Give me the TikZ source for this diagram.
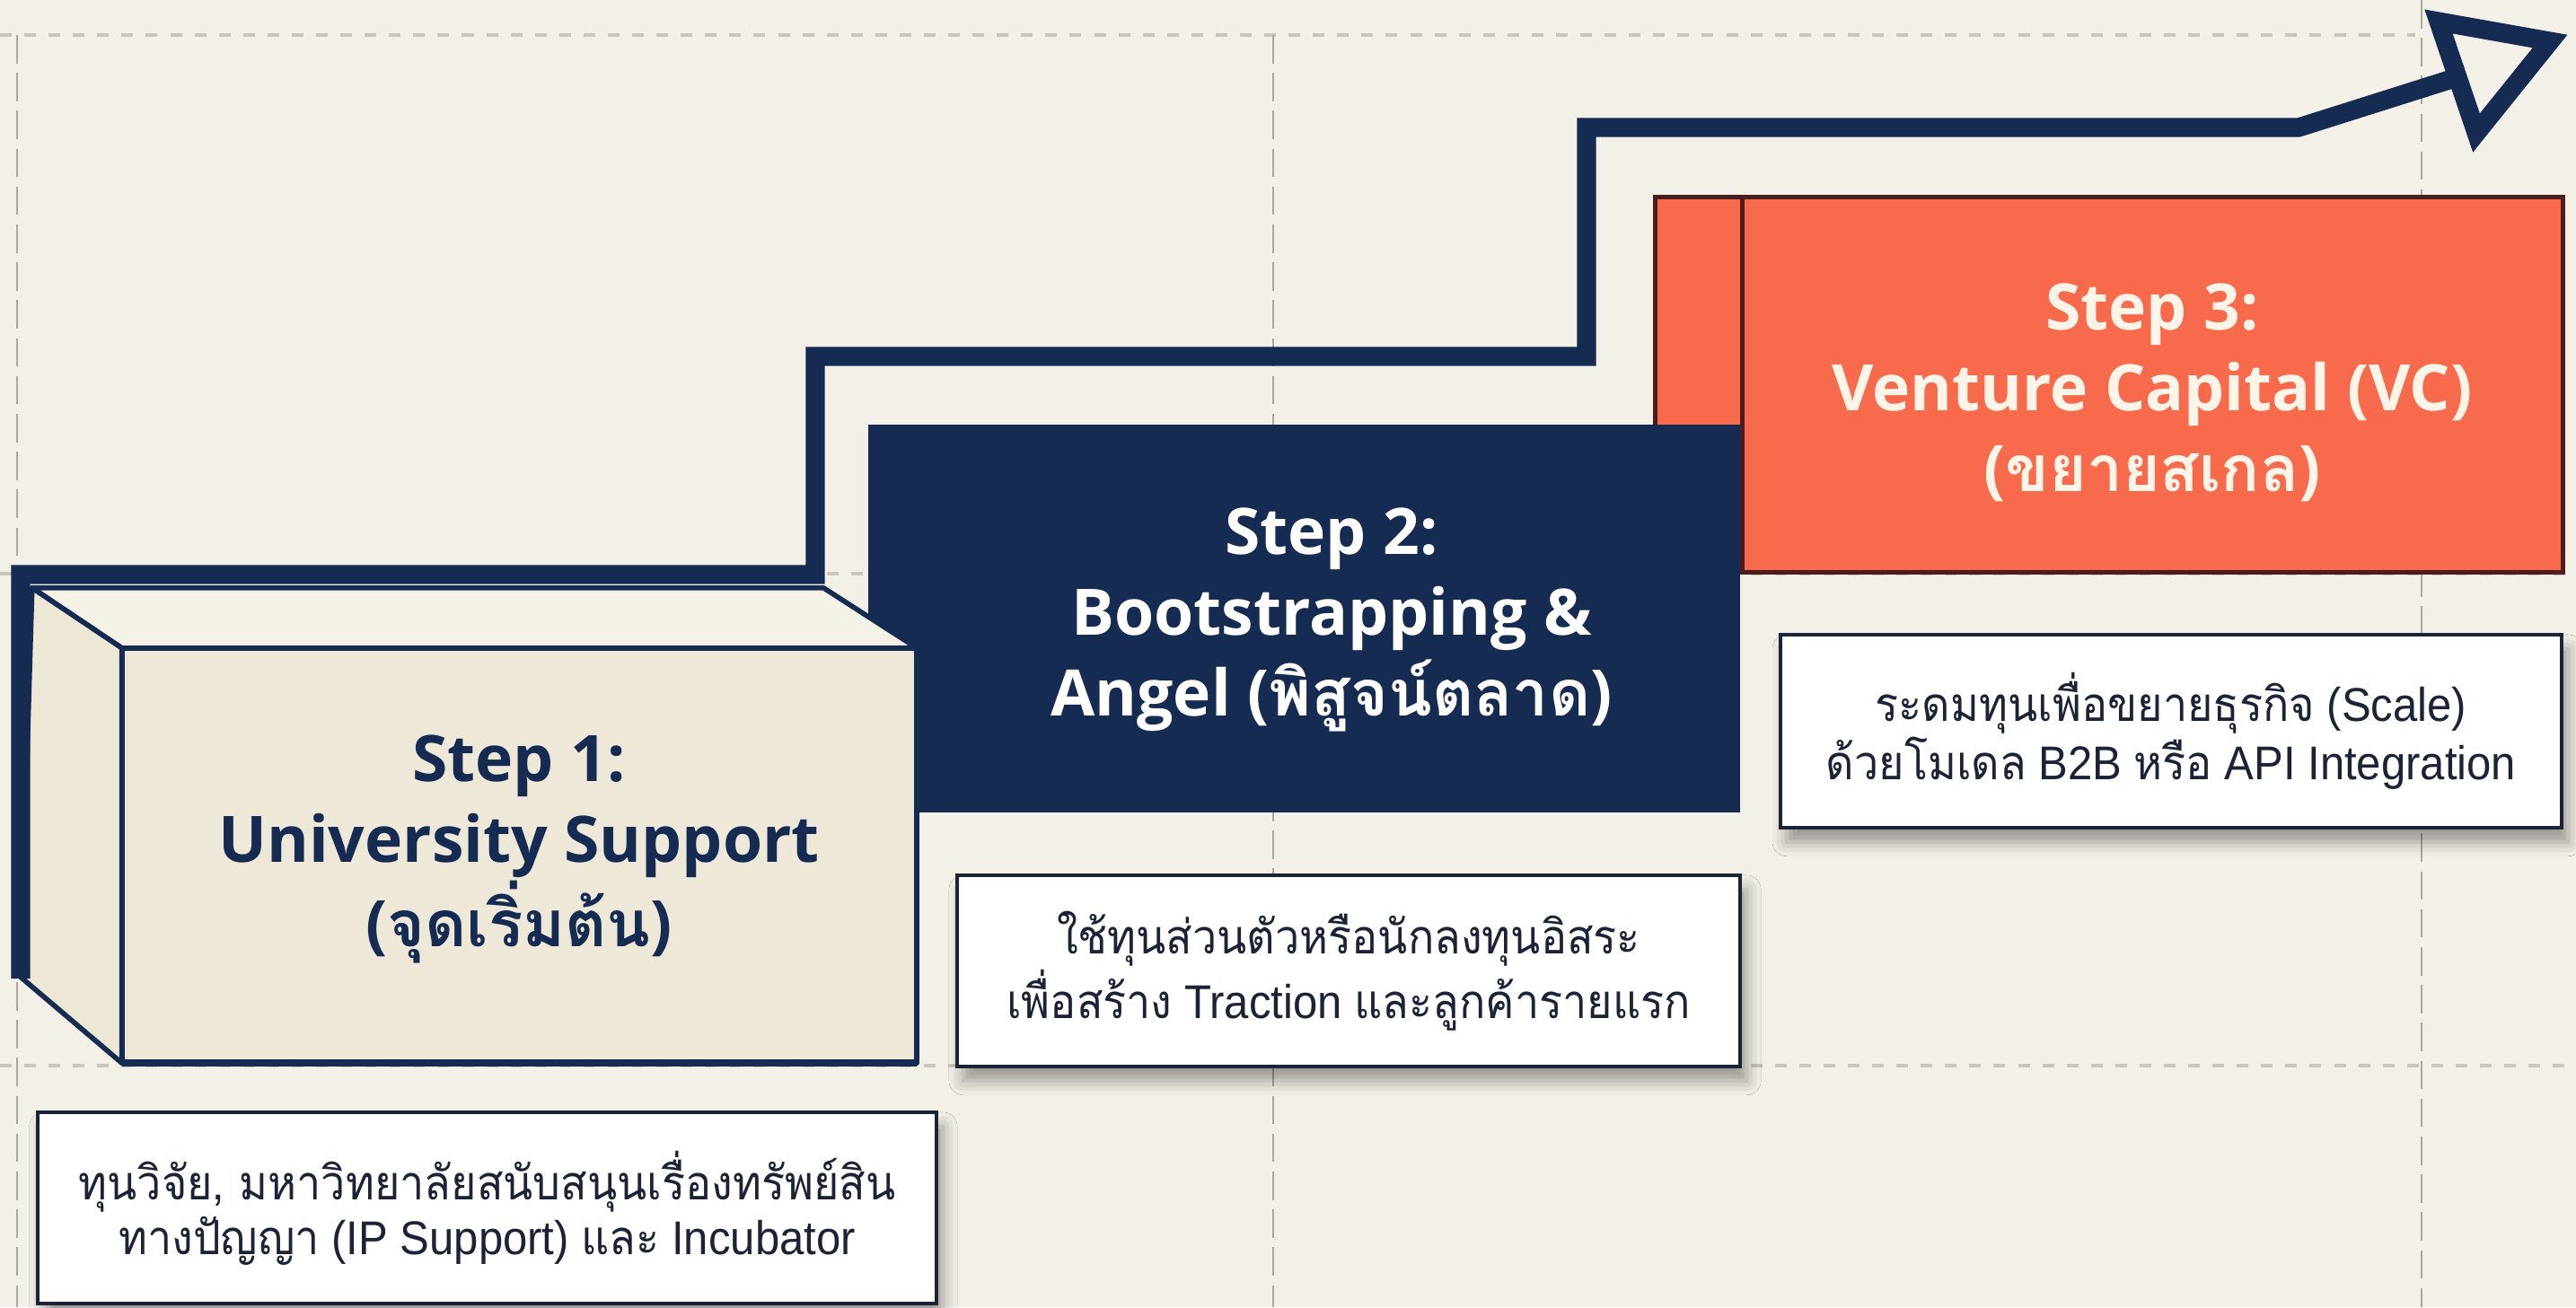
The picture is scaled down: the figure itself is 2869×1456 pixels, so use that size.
\documentclass[tikz,border=0pt]{standalone}
\usepackage{fontspec}
\usetikzlibrary{shadows.blur}

\newfontfamily\headfont{Open Sans}
\newfontfamily\bodyfont[FakeStretch=0.93]{Liberation Sans}
\newfontfamily\thaifont[Script=Thai]{Loma}
\newfontfamily\thaibody[Script=Thai, FakeStretch=0.92]{Loma}
\newcommand\thtext[1]{{\thaifont #1}}
\newcommand\thbody[1]{{\thaibody #1}}

\definecolor{paper}{HTML}{F3F1E7}
\definecolor{navy}{HTML}{152B52}
\definecolor{coral}{HTML}{F76A4C}
\definecolor{coraledge}{HTML}{4A1C1E}
\definecolor{gridgray}{HTML}{C9C6BB}
\definecolor{boxfront}{HTML}{EEE8D8}
\definecolor{boxtop}{HTML}{F4F1E6}
\definecolor{boxside}{HTML}{EDE7D6}
\definecolor{inkdark}{HTML}{1B2336}
\definecolor{creamtext}{HTML}{FFF4E8}

\tikzset{
  gridh/.style={gridgray, line width=0.9pt, dash pattern=on 3.7pt off 4pt},
  gridv/.style={gridgray!85!black, line width=0.6pt, dash pattern=on 9pt off 3pt},
  stairline/.style={navy, line width=6pt, line join=miter, line cap=butt},
  faceedge/.style={draw=navy, line width=1.6pt, line join=round},
  stepfront/.style={faceedge, fill=boxfront, inner sep=0pt, outer sep=0pt},
  coralface/.style={draw=coraledge, line width=1.4pt, fill=coral, inner sep=0pt, outer sep=0pt},
  navyface/.style={fill=navy, inner sep=0pt, outer sep=0pt},
  steptitle/.style={align=center, font={\headfont\bfseries\fontsize{20.3pt}{25.6pt}\selectfont}},
  descbox/.style={draw=inkdark, line width=1.2pt, fill=white, inner sep=0pt, outer sep=0pt,
    align=center, text=inkdark, font={\bodyfont\fontsize{15pt}{17.3pt}\selectfont},
    blur shadow={shadow xshift=2pt, shadow yshift=-4.5pt, shadow blur radius=4.5pt, shadow opacity=38}},
}

\begin{document}
\begin{tikzpicture}[x=0.01cm, y=-0.01cm]
  % canvas
  \useasboundingbox (0,0) rectangle (2869,1456);
  \clip (0,0) rectangle (2869,1456);
  \fill[paper] (0,0) rectangle (2869,1456);

  % dashed guide grid
  \draw[gridh] (0,39) -- (2690,39);
  \draw[gridh] (0,639) -- (2869,639);
  \draw[gridh] (0,1187) -- (2869,1187);
  \draw[gridv] (19,39) -- (19,1456);
  \draw[gridv] (1418,39) -- (1418,1456);
  \draw[gridv] (2697,0) -- (2697,1456);

  % step 3: coral block with its side strip
  \node[coralface, minimum width=9.14cm, minimum height=4.18cm] (s3) at (2397.5,428.5) {};
  \path (s3.north west) ++(-97,0) coordinate (s3back);
  \draw[coralface] (s3back) rectangle (s3.south west);
  \node[steptitle, text=creamtext] (s3t) at (2397,437)
    {Step 3:\\ Venture Capital (VC)\\ (\thtext{ขยายสเกล})};

  % step 2: navy block
  \node[navyface, minimum width=9.71cm, minimum height=4.32cm] (s2) at (1452.5,689) {};
  \node[steptitle, text=white] (s2t) at (1483,690)
    {Step 2:\\ Bootstrapping \&\\ Angel (\thtext{พิสูจน์ตลาด})};

  % step 1: extruded box
  \node[stepfront, minimum width=8.85cm, minimum height=4.62cm] (s1) at (578.5,953) {};
  \draw[faceedge, fill=boxtop] (s1.north west) -- ([shift={(-100,-67)}]s1.north west)
    -- ([shift={(-104,-67)}]s1.north east) -- (s1.north east) -- cycle;
  \draw[faceedge, fill=boxside] (s1.north west) -- ([shift={(-100,-67)}]s1.north west)
    -- ([shift={(-113,-96)}]s1.south west) -- (s1.south west) -- cycle;
  \draw[navy, line width=2.2pt] (s1.south west) -- (s1.south east);
  \node[steptitle, text=navy] (s1t) at (578,946)
    {Step 1:\\ University Support\\ (\thtext{จุดเริ่มต้น})};

  % rising staircase arrow
  \coordinate (p0) at (23,1090);
  \coordinate (p1) at (23,640);
  \coordinate (p2) at (908,640);
  \coordinate (p3) at (908,397);
  \coordinate (p4) at (1767,397);
  \coordinate (p5) at (1767,142);
  \coordinate (p6) at (2560,142);
  \coordinate (a1) at (2716,24);
  \coordinate (a2) at (2840,46);
  \coordinate (a3) at (2758,148);
  \coordinate (p7) at ($(a1)!0.5!(a3)$);
  \draw[stairline] (p0) -- (p1) -- (p2) -- (p3) -- (p4) -- (p5) -- (p6) -- (p7);
  \draw[stairline] (a1) -- (a2) -- (a3) -- cycle;

  % description cards
  \node[descbox, minimum width=10.01cm, minimum height=2.13cm] (d1) at (542.5,1345.5)
    {\thbody{ทุนวิจัย, มหาวิทยาลัยสนับสนุนเรื่องทรัพย์สิน}\\
     \thbody{ทางปัญญา} (IP Support) \thbody{และ} Incubator};
  \node[descbox, minimum width=8.72cm, minimum height=2.13cm] (d2) at (1502,1081.5)
    {\thbody{ใช้ทุนส่วนตัวหรือนักลงทุนอิสระ}\\
     \thbody{เพื่อสร้าง} Traction \thbody{และลูกค้ารายแรก}};
  \node[descbox, minimum width=8.70cm, minimum height=2.15cm] (d3) at (2418,814.5)
    {\thbody{ระดมทุนเพื่อขยายธุรกิจ} (Scale)\\
     \thbody{ด้วยโมเดล} B2B \thbody{หรือ} API Integration};
\end{tikzpicture}
\end{document}
